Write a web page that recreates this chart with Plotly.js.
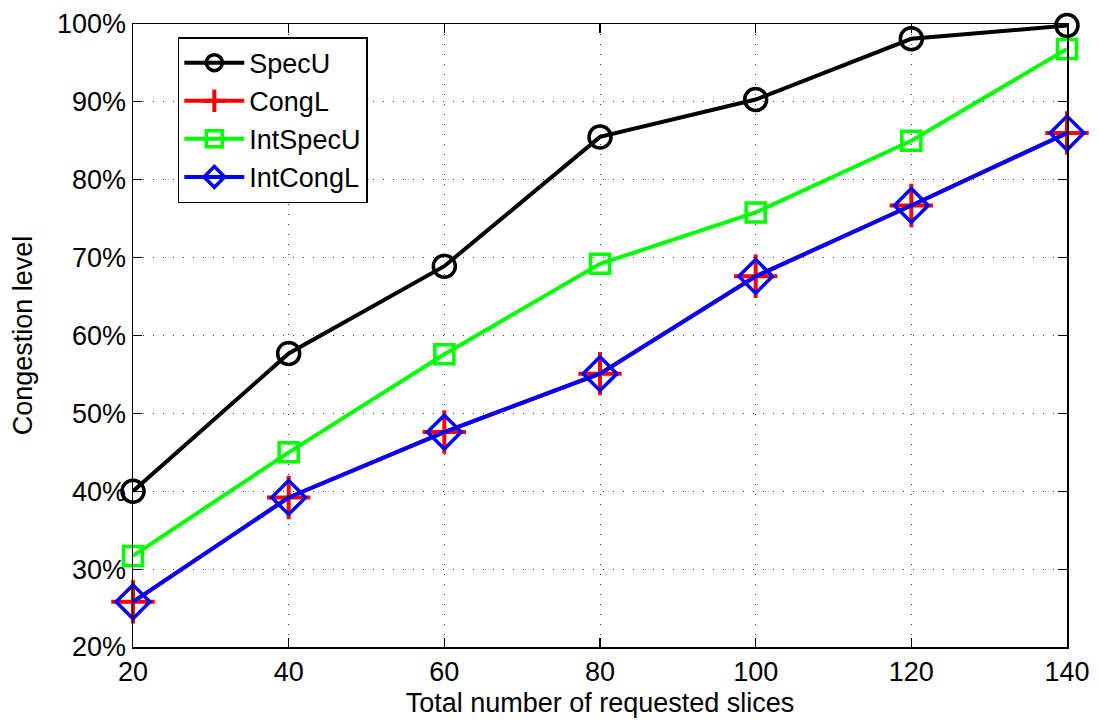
<!DOCTYPE html>
<html>
<head>
<meta charset="utf-8">
<script src="https://cdn.plot.ly/plotly-3.0.1.min.js"></script>
<style>html,body{margin:0;padding:0;background:#fff;}#chart{width:1099px;height:723px;}</style>
</head>
<body>
<div id="chart"></div>
<script>
const slices = [20, 40, 60, 80, 100, 120, 140];
const specU = [40.0, 57.7, 68.9, 85.5, 90.3, 98.1, 99.8];
const congL = [25.8, 39.2, 47.6, 55.1, 67.6, 76.7, 86.0];
const intSpecU = [31.7, 45.0, 57.6, 69.2, 75.8, 85.0, 96.8];
const intCongL = [25.8, 39.2, 47.6, 55.1, 67.6, 76.7, 86.0];
const yTicks = [20, 30, 40, 50, 60, 70, 80, 90, 100];
const xTicks = [20, 40, 60, 80, 100, 120, 140];

const traces = [
  {x: slices, y: specU, name: 'SpecU', mode: 'lines+markers', cliponaxis: false,
   line: {color: '#000000', width: 4},
   marker: {symbol: 'circle-open', size: 22, color: '#000000', line: {width: 3.5, color: '#000000'}}},
  {x: slices, y: congL, name: 'CongL', mode: 'lines+markers', cliponaxis: false,
   line: {color: '#ff0000', width: 4},
   marker: {symbol: 'cross-thin-open', size: 31, color: '#ff0000', line: {width: 4, color: '#ff0000'}}},
  {x: slices, y: intSpecU, name: 'IntSpecU', mode: 'lines+markers', cliponaxis: false,
   line: {color: '#00ff00', width: 4},
   marker: {symbol: 'square-open', size: 19, color: '#00ff00', line: {width: 3.5, color: '#00ff00'}}},
  {x: slices, y: intCongL, name: 'IntCongL', mode: 'lines+markers', cliponaxis: false,
   line: {color: '#0000ff', width: 4},
   marker: {symbol: 'diamond-open', size: 26, color: '#0000ff', line: {width: 3.5, color: '#0000ff'}}}
];

const fam = '"Liberation Sans", Arial, Helvetica, sans-serif';
const fs = 27;

const layout = {
  width: 1099, height: 723,
  margin: {l: 133, r: 32, t: 24, b: 76, pad: 0},
  paper_bgcolor: '#ffffff', plot_bgcolor: '#ffffff',
  font: {family: fam, size: fs, color: '#000000'},
  showlegend: true,
  legend: {x: 0.048, y: 0.979, xanchor: 'left', yanchor: 'top',
    bgcolor: '#ffffff', bordercolor: '#000000', borderwidth: 1.5,
    font: {family: fam, size: fs, color: '#000000'},
    tracegroupgap: 0, itemwidth: 60},
  xaxis: {
    range: [20, 140], tickmode: 'array', tickvals: xTicks, ticktext: xTicks.map(String),
    showline: true, linecolor: '#000000', linewidth: 1.5, mirror: 'ticks',
    ticks: 'inside', ticklen: 9, tickwidth: 1.2, tickcolor: '#000000',
    showgrid: true, gridcolor: '#3a3a3a', griddash: '1px,9px', gridwidth: 1,
    zeroline: false,
    tickfont: {family: fam, size: fs, color: '#000000'},
    title: {text: 'Total number of requested slices', font: {family: fam, size: fs, color: '#000000'}, standoff: 7}
  },
  yaxis: {
    range: [20, 100], tickmode: 'array', tickvals: yTicks, ticktext: yTicks.map(v => v + '%'),
    showline: true, linecolor: '#000000', linewidth: 1.5, mirror: 'ticks',
    ticks: 'inside', ticklen: 9, tickwidth: 1.2, tickcolor: '#000000',
    showgrid: true, gridcolor: '#3a3a3a', griddash: '1px,9px', gridwidth: 1,
    zeroline: false,
    tickfont: {family: fam, size: fs, color: '#000000'},
    title: {text: 'Congestion level', font: {family: fam, size: fs, color: '#000000'}, standoff: 16}
  }
};

Plotly.newPlot('chart', traces, layout, {displayModeBar: false, staticPlot: true});
</script>
</body>
</html>
